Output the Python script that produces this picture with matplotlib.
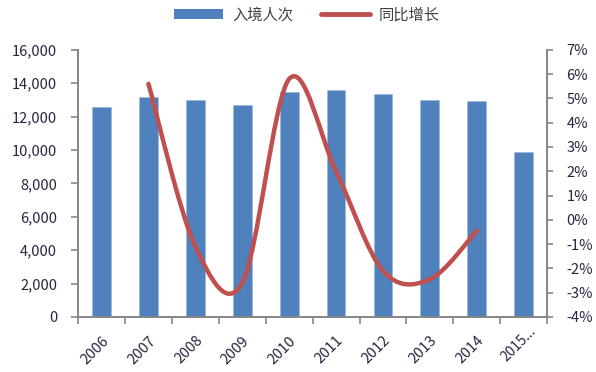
import matplotlib
matplotlib.use("Agg")
import matplotlib.pyplot as plt
from matplotlib.path import Path
from matplotlib.patches import PathPatch, Patch
from matplotlib.lines import Line2D
from matplotlib.ticker import FuncFormatter, FixedLocator
from matplotlib.transforms import ScaledTranslation

plt.rcParams['font.family'] = ['Noto Sans CJK SC', 'DejaVu Sans']

years = ["2006", "2007", "2008", "2009", "2010", "2011", "2012", "2013", "2014", "2015..."]
arrivals = [12550, 13200, 13000, 12700, 13450, 13570, 13350, 13020, 12920, 9900]
growth_years = [1, 2, 3, 4, 5, 6, 7, 8]  # index into years (2007..2014)
growth = [5.6, -1.1, -2.6, 5.8, 2.0, -2.1, -2.45, -0.45]

bar_color = "#4F81BD"
line_color = "#C0504D"
axis_color = "#868686"
text_color = "#262640"

fig = plt.figure(figsize=(5.96, 3.72), dpi=100)
ax = fig.add_axes([0.131, 0.148, 0.787, 0.718])
ax2 = ax.twinx()

x = list(range(len(years)))
ax.bar(x, arrivals, width=0.4, color=bar_color, edgecolor="#9DB9DC", linewidth=0.5, zorder=2)
ax.set_xlim(-0.5, len(years) - 0.5)
ax.set_ylim(0, 16000)
ax.yaxis.set_major_locator(FixedLocator(range(0, 16001, 2000)))
ax.yaxis.set_major_formatter(FuncFormatter(lambda v, p: f"{int(v):,}"))
ax.set_xticks(x)
ax.set_xticklabels(years, rotation=45, ha="right", rotation_mode="anchor")
ax.set_xticks([i - 0.5 for i in range(len(years) + 1)], minor=True)
ax.tick_params(axis="x", which="major", length=0, pad=12, labelsize=10.5, colors=text_color)
ax.tick_params(axis="x", which="minor", length=5, color=axis_color, width=1.2)
ax.tick_params(axis="y", length=5, pad=10, color=axis_color, width=1.2, labelsize=10.5,
               labelcolor=text_color)
last = ax.get_xticklabels()[-1]
last.set_fontsize(10)
last.set_transform(last.get_transform() + ScaledTranslation(4 / 72, 7 / 72, fig.dpi_scale_trans))

# smoothed line (Excel-style Bezier through the points)
px = growth_years
py = growth
n = len(px)
verts = [(px[0], py[0])]
codes = [Path.MOVETO]
for i in range(n - 1):
    a = max(i - 1, 0)
    b = min(i + 2, n - 1)
    c1 = (px[i] + (px[i + 1] - px[a]) / 6, py[i] + (py[i + 1] - py[a]) / 6)
    c2 = (px[i + 1] - (px[b] - px[i]) / 6, py[i + 1] - (py[b] - py[i]) / 6)
    verts += [c1, c2, (px[i + 1], py[i + 1])]
    codes += [Path.CURVE4] * 3
ax2.add_patch(PathPatch(Path(verts, codes), facecolor="none", edgecolor=line_color,
                        linewidth=3.2, capstyle="round", joinstyle="round", zorder=3))
ax2.set_ylim(-4, 7)
ax2.yaxis.set_major_locator(FixedLocator(range(-4, 8)))
ax2.yaxis.set_major_formatter(FuncFormatter(lambda v, p: f"{int(v)}%"))
ax2.tick_params(axis="y", length=4, pad=10, color=axis_color, width=1.2, labelsize=10.5,
                labelcolor=text_color)

for a in (ax, ax2):
    a.spines["top"].set_visible(False)
    for s in ("left", "right", "bottom"):
        a.spines[s].set_color(axis_color)
        a.spines[s].set_linewidth(1.2)

handles = [Patch(facecolor=bar_color, edgecolor="none"),
           Line2D([0], [0], color=line_color, linewidth=3.5, solid_capstyle="round")]
fig.legend(handles, ["入境人次", "同比增长"], loc="upper center", bbox_to_anchor=(0.515, 1.02),
           ncol=2, frameon=False, fontsize=11, handlelength=3.2, columnspacing=1.8,
           handletextpad=0.6, labelcolor="#404040")

fig.savefig("out.png", dpi=100)
